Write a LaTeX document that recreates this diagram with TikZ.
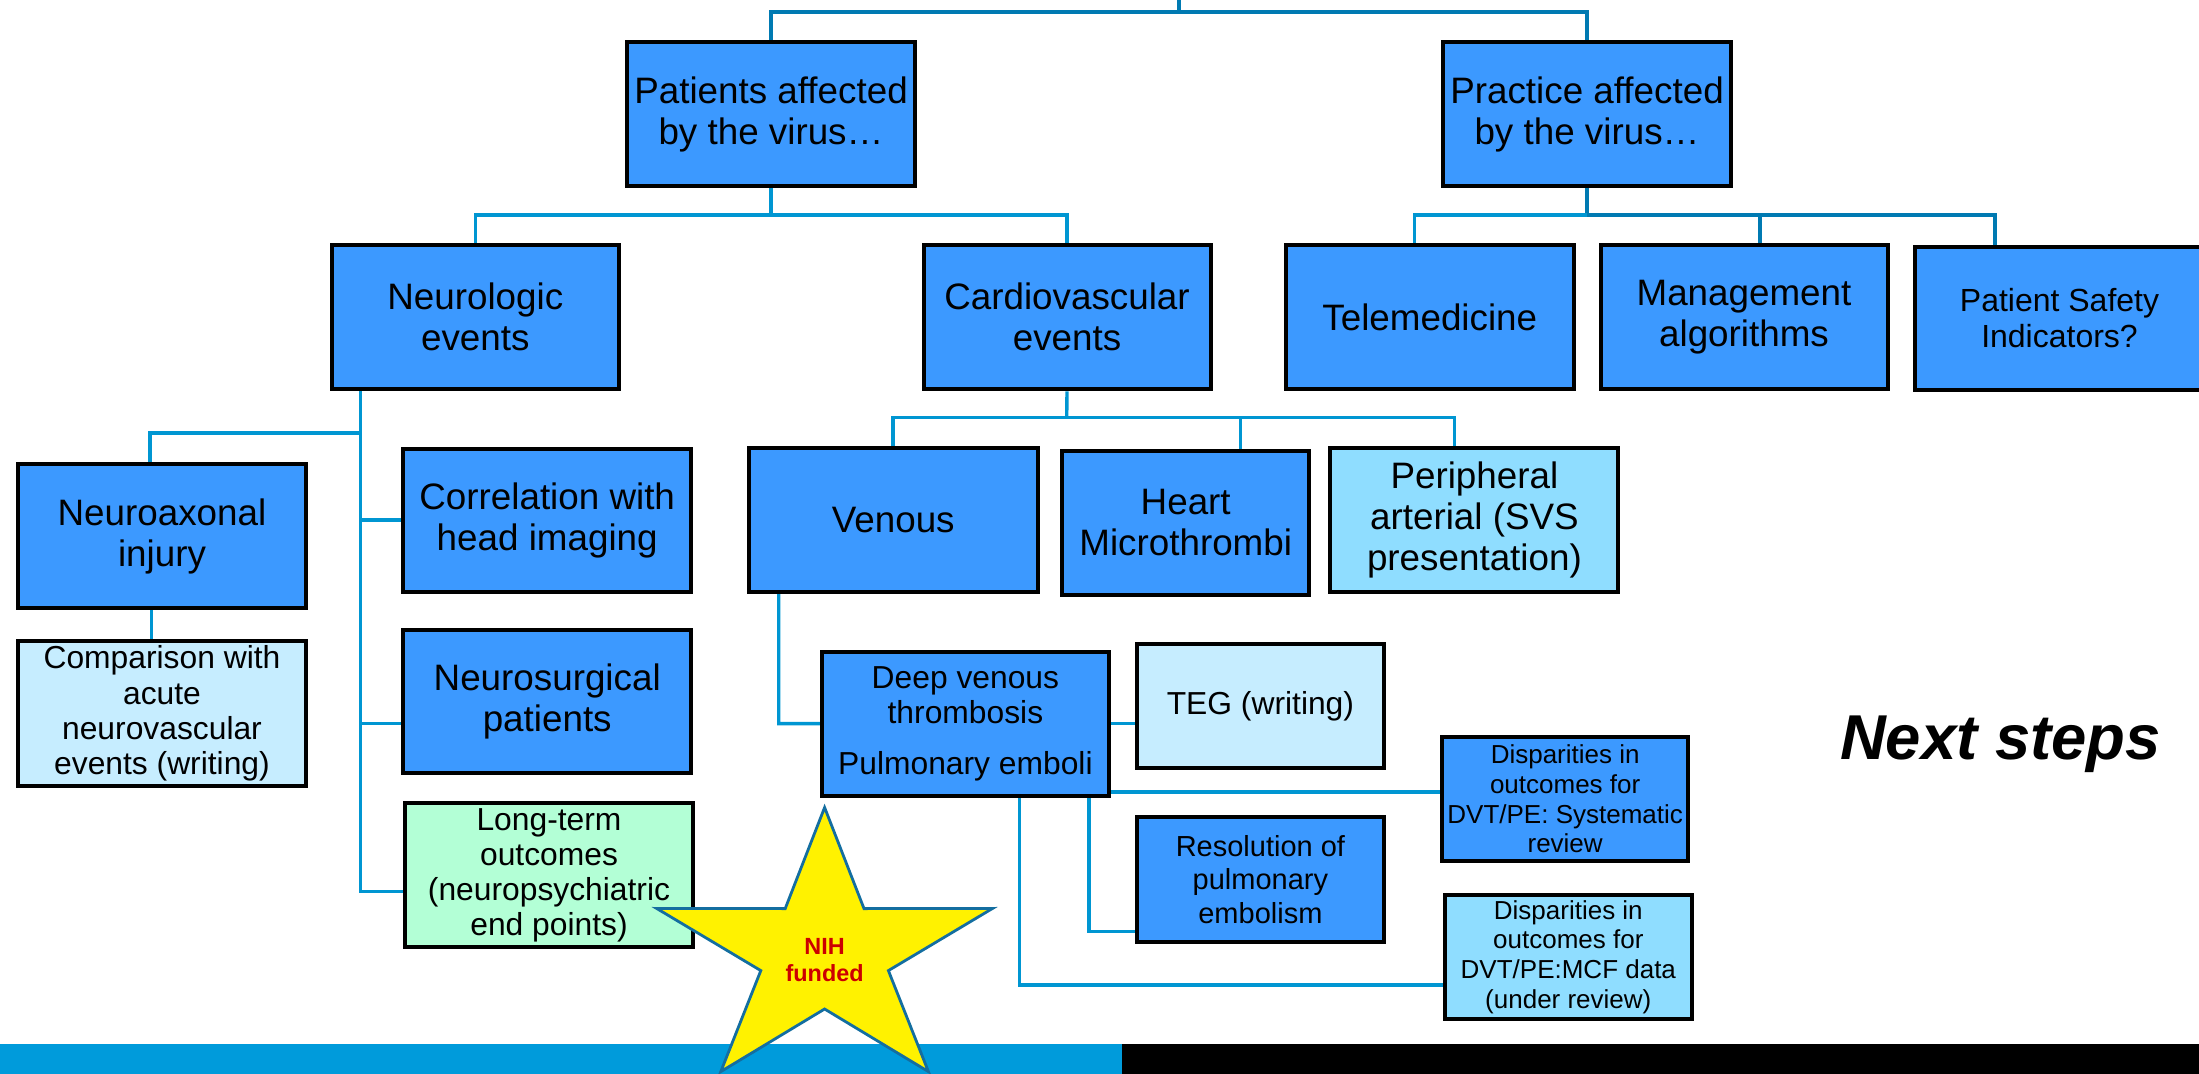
\documentclass[tikz,border=0pt]{standalone}
\usepackage{fontspec}
\setmainfont{Liberation Sans}
\usetikzlibrary{backgrounds}
\definecolor{boxblue}{RGB}{60,153,255}
\definecolor{palecyan}{RGB}{198,237,255}
\definecolor{skyblue}{RGB}{143,221,255}
\definecolor{mint}{RGB}{179,255,214}
\definecolor{linkblue}{RGB}{0,150,210}
\definecolor{darklink}{RGB}{0,122,178}
\definecolor{barblue}{RGB}{0,155,219}
\definecolor{starline}{RGB}{20,110,160}
\definecolor{nihred}{RGB}{204,0,0}
\tikzset{
  boxbase/.style={draw=black, line width=2pt, inner sep=0pt, align=center, text=black},
  fbig/.style={font=\fontsize{18.4}{20.5}\selectfont},
  fmid/.style={font=\fontsize{15.9}{17.6}\selectfont},
  fres/.style={font=\fontsize{14.5}{16.8}\selectfont},
  fsmall/.style={font=\fontsize{13}{14.9}\selectfont},
  link/.style={draw=linkblue, line width=1.7pt},
  toplink/.style={draw=darklink, line width=1.7pt},
}
\newcommand\bx[7]{%
  \pgfmathsetmacro\bxcx{(#3+#5)/2}\pgfmathsetmacro\bxcy{(#4+#6)/2}%
  \pgfmathsetmacro\bxw{(#5-#3)*0.5}\pgfmathsetmacro\bxh{(#6-#4)*0.5}%
  \node[boxbase,#2,minimum width=\bxw pt,minimum height=\bxh pt] (#1) at (\bxcx,\bxcy) {#7};}
\begin{document}
\begin{tikzpicture}[x=0.5pt,y=-0.5pt]
\useasboundingbox (0,0) rectangle (2199,1074);

% boxes
\bx{pat}{fill=boxblue,fbig}{627}{42}{915}{186}{Patients affected\\by the virus\ldots}
\bx{pra}{fill=boxblue,fbig}{1443}{42}{1731}{186}{Practice affected\\by the virus\ldots}
\bx{neu}{fill=boxblue,fbig}{331.5}{245}{619}{389.4}{Neurologic\\events}
\bx{car}{fill=boxblue,fbig}{923.5}{245}{1210.5}{389.4}{Cardiovascular\\events}
\bx{tel}{fill=boxblue,fbig}{1286}{245}{1573.5}{389.4}{Telemedicine}
\bx{man}{fill=boxblue,fbig}{1600.5}{245}{1887.5}{389.4}{Management\\algorithms}
\bx{psi}{fill=boxblue,font=\fontsize{16}{18}\selectfont}{1915}{246.6}{2204}{390.4}{Patient Safety\\Indicators?}
\bx{nax}{fill=boxblue,fbig}{18}{464}{306}{608}{Neuroaxonal\\injury}
\bx{cmp}{fill=palecyan,fmid}{18}{641}{306}{786}{Comparison with\\acute\\neurovascular\\events (writing)}
\bx{cor}{fill=boxblue,fbig}{403.4}{448.6}{691}{591.8}{Correlation with\\head imaging}
\bx{nsu}{fill=boxblue,fbig}{403.4}{630}{691}{773.3}{Neurosurgical\\patients}
\bx{lon}{fill=mint,fmid}{405}{803.4}{693}{947.3}{Long-term\\outcomes\\(neuropsychiatric\\end points)}
\bx{ven}{fill=boxblue,fbig}{749}{448}{1037.5}{591.8}{Venous}
\bx{hea}{fill=boxblue,fbig}{1062}{451.4}{1309.4}{594.5}{Heart\\Microthrombi}
\bx{per}{fill=skyblue,fbig}{1330.4}{448}{1618.4}{591.8}{Peripheral\\arterial (SVS\\presentation)}
\bx{dvt}{fill=boxblue,fmid}{822}{651.7}{1108.8}{795.5}{Deep venous\\thrombosis\\[8pt]Pulmonary emboli}
\bx{teg}{fill=palecyan,fmid}{1136.8}{643.8}{1384}{768.2}{TEG (writing)}
\bx{res}{fill=boxblue,fres}{1136.8}{817}{1384}{941.8}{Resolution of\\pulmonary\\embolism}
\bx{dsa}{fill=boxblue,fsmall}{1442}{736.7}{1688.3}{861.3}{Disparities in\\outcomes for\\DVT/PE: Systematic\\review}
\bx{dsb}{fill=skyblue,fsmall}{1444.8}{894.9}{1691.8}{1019.2}{Disparities in\\outcomes for\\DVT/PE:MCF data\\(under review)}

% connectors
\begin{scope}[on background layer]
\coordinate (topin) at (1179,0);
\coordinate (topbus) at (1179,12);
\draw[toplink] (topin) -- (topbus);
\draw[toplink] (pat.north) -- (pat.north |- topbus) -- (pra.north |- topbus) -- (pra.north);

\coordinate (pbus) at (771,215);
\draw[link] (pat.south) -- (pbus);
\draw[link] (neu.north) -- (neu.north |- pbus) -- (car.north |- pbus) -- (car.north);

\coordinate (rbus) at (1587,215);
\coordinate (rtel) at (1414.6,215);
\coordinate (rman) at (1759.8,215);
\coordinate (rpsi) at (1994.8,215);
\draw[toplink] (pra.south) -- (rbus);
\draw[link] (rtel |- tel.north) -- (rtel) -- (rbus);
\draw[toplink] (rbus) -- (rpsi) -- (rpsi |- psi.north);
\draw[toplink] (rman) -- (rman |- man.north);

\coordinate (nsp) at (360.2,433.2);
\coordinate (nend) at (360.2,891.5);
\coordinate (naxj) at (149.8,433.2);
\coordinate (nsuj) at (360.2,723.6);
\draw[link] (nsp |- neu.south) -- (nend) -- (lon.west |- nend);
\draw[link] (nsp) -- (naxj) -- (naxj |- nax.north);
\draw[link] (nsp |- cor.west) -- (cor.west);
\draw[link] (nsuj) -- (nsu.west |- nsuj);
\coordinate (cmpj) at (151.5,620);
\draw[link] (cmpj |- nax.south) -- (cmpj |- cmp.north);

\coordinate (cbus) at (1066.7,417.5);
\coordinate (cven) at (893,417.5);
\coordinate (chea) at (1240.3,417.5);
\coordinate (cper) at (1454.3,417.5);
\draw[link] (car.south) -- (cbus);
\draw[link] (cven |- ven.north) -- (cven) -- (cper) -- (cper |- per.north);
\draw[link] (chea) -- (chea |- hea.north);

\coordinate (vd) at (778.7,723.6);
\draw[link] (vd |- ven.south) -- (vd) -- (dvt.west);
\draw[link] (dvt.east) -- (teg.west |- dvt.east);
\coordinate (d1y) at (1110,792);
\draw[link] (dvt.east |- d1y) -- (dsa.west |- d1y);
\coordinate (rsj) at (1089,931.5);
\draw[link] (rsj |- dvt.south) -- (rsj) -- (res.west |- rsj);
\coordinate (d2j) at (1019.3,985);
\draw[link] (d2j |- dvt.south) -- (d2j) -- (dsb.west |- d2j);
\end{scope}

% next steps
\node[anchor=base, font=\fontsize{31.7}{36}\selectfont\bfseries\itshape] (next) at (2000.5,759.6) {Next steps};

% bottom bar
\fill[barblue] (0,1044) rectangle (1122,1074);
\fill[black] (1122,1044) rectangle (2199,1074);

% star
\draw[starline, line width=1.4pt, fill=yellow, line join=miter]
  (824.6,807.5) -- (864.0,908.6) -- (992.6,908.4) -- (888.4,970.6) -- (928.4,1071.6)
  -- (824.6,1009) -- (720.8,1071.6) -- (760.8,970.6) -- (656.6,908.4) -- (785.2,908.6) -- cycle;
\node[align=center, text=nihred, font=\fontsize{11.7}{13.2}\selectfont\bfseries] (nih) at (824.6,960) {NIH\\funded};
\end{tikzpicture}
\end{document}
